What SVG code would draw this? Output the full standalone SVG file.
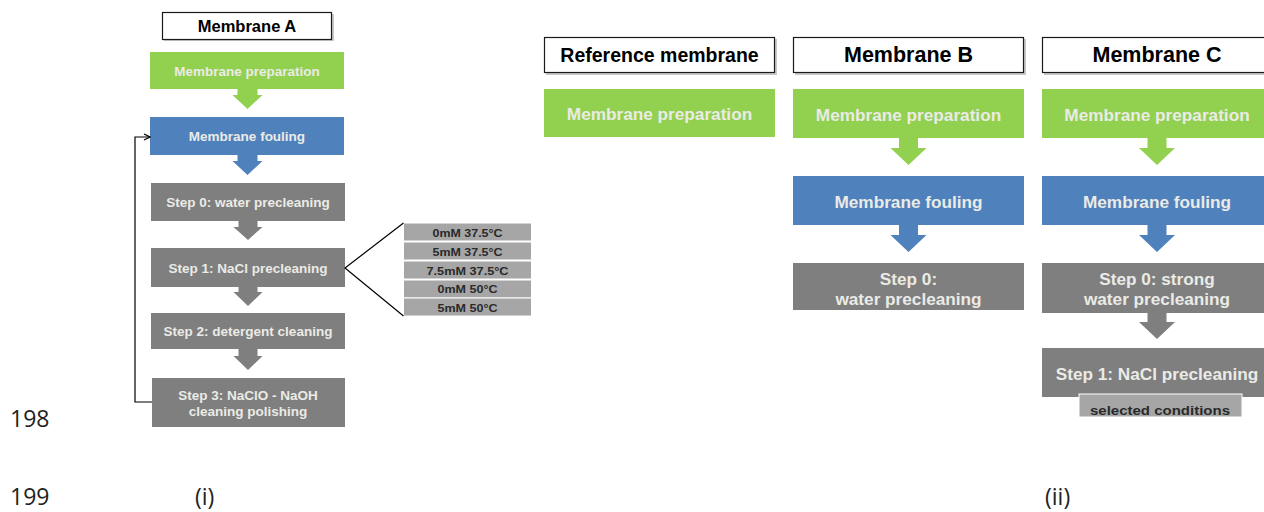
<svg xmlns="http://www.w3.org/2000/svg" width="1264" height="512" viewBox="0 0 1264 512">
<style>
.bg{fill:#ffffff}
.title{fill:#ffffff;stroke:#1a1a1a;stroke-width:1.2}
.shadow{fill:#c8c8c8}
.green{fill:#92d050}
.blue{fill:#4f81bd}
.gray{fill:#7f7f7f}
.cond{fill:#a6a6a6;stroke:#ffffff;stroke-width:1}
.tt{font-family:"Liberation Sans",Arial,sans-serif;font-weight:bold;fill:#000000;text-anchor:middle;dominant-baseline:central}
.bt{font-family:"Liberation Sans",Arial,sans-serif;font-weight:bold;fill:#ebebe6;text-anchor:middle;dominant-baseline:central}
.ct{font-family:"Liberation Sans",Arial,sans-serif;font-weight:bold;fill:#2a2a2a;text-anchor:middle;dominant-baseline:central}
.num{font-family:"Open Sans","Liberation Sans",sans-serif;fill:#222222;font-size:23px}
.line{fill:none;stroke:#000000;stroke-width:1.2}
</style>
<defs>
<marker id="ah" markerWidth="8" markerHeight="8" refX="7" refY="4" orient="auto" markerUnits="userSpaceOnUse">
<path d="M1,1 L7,4 L1,7" fill="none" stroke="#000" stroke-width="1.3"/>
</marker>
</defs>
<rect class="bg" x="0" y="0" width="1264" height="512"/>

<!-- Left: Membrane A -->
<g id="titleA">
<rect class="shadow" x="164" y="14" width="170" height="27"/>
<rect class="title" x="162.5" y="12.5" width="169" height="27"/>
<text class="tt" x="247" y="26" font-size="16.5">Membrane A</text>
</g>
<g id="A-prep">
<rect class="green" x="150" y="52" width="194" height="37"/>
<text class="bt" x="247" y="71" font-size="13.5">Membrane preparation</text>
</g>
<g id="A-fouling">
<rect class="blue" x="150" y="117" width="194" height="38"/>
<text class="bt" x="247" y="136.5" font-size="13.5">Membrane fouling</text>
</g>
<g id="A-step0">
<rect class="gray" x="151" y="183" width="194" height="38"/>
<text class="bt" x="248" y="202.5" font-size="13.5">Step 0: water precleaning</text>
</g>
<g id="A-step1">
<rect class="gray" x="151" y="248" width="194" height="39"/>
<text class="bt" x="248" y="268" font-size="13.5">Step 1: NaCl precleaning</text>
</g>
<g id="A-step2">
<rect class="gray" x="151" y="313" width="194" height="36"/>
<text class="bt" x="248" y="331.5" font-size="13.5">Step 2: detergent cleaning</text>
</g>
<g id="A-step3">
<rect class="gray" x="152" y="378" width="193" height="49"/>
<text class="bt" x="248" y="395" font-size="13.5">Step 3: NaClO - NaOH</text>
<text class="bt" x="248" y="411.5" font-size="13.5">cleaning polishing</text>
</g>
<g id="A-conditions">
<rect class="cond" x="403.5" y="223" width="128" height="18"/>
<text class="ct" x="467.5" y="232.5" font-size="11" textLength="70" lengthAdjust="spacingAndGlyphs">0mM 37.5°C</text>
<rect class="cond" x="403.5" y="242" width="128" height="18"/>
<text class="ct" x="467.5" y="251.5" font-size="11" textLength="70" lengthAdjust="spacingAndGlyphs">5mM 37.5°C</text>
<rect class="cond" x="403.5" y="261" width="128" height="18"/>
<text class="ct" x="467.5" y="270.5" font-size="11" textLength="82" lengthAdjust="spacingAndGlyphs">7.5mM 37.5°C</text>
<rect class="cond" x="403.5" y="280" width="128" height="18"/>
<text class="ct" x="467.5" y="289" font-size="11" textLength="60" lengthAdjust="spacingAndGlyphs">0mM 50°C</text>
<rect class="cond" x="403.5" y="298" width="128" height="18"/>
<text class="ct" x="467.5" y="307.5" font-size="11" textLength="60" lengthAdjust="spacingAndGlyphs">5mM 50°C</text>
</g>

<!-- Right: Reference membrane -->
<g id="titleRef">
<rect class="shadow" x="546" y="39" width="231" height="36"/>
<rect class="title" x="544.5" y="37.5" width="230" height="35"/>
<text class="tt" x="659.5" y="55" font-size="19.5">Reference membrane</text>
</g>
<g id="Ref-prep">
<rect class="green" x="544" y="89" width="231" height="48"/>
<text class="bt" x="659.5" y="114" font-size="17.2">Membrane preparation</text>
</g>

<!-- Membrane B -->
<g id="titleB">
<rect class="shadow" x="795" y="39" width="231" height="36"/>
<rect class="title" x="793.5" y="37.5" width="230" height="35"/>
<text class="tt" x="908.5" y="55" font-size="21.5">Membrane B</text>
</g>
<g id="B-prep">
<rect class="green" x="793" y="89" width="231" height="49"/>
<text class="bt" x="908.5" y="115" font-size="17.2">Membrane preparation</text>
</g>
<g id="B-fouling">
<rect class="blue" x="793" y="176" width="231" height="49"/>
<text class="bt" x="908.5" y="201.5" font-size="17.2">Membrane fouling</text>
</g>
<g id="B-step0">
<rect class="gray" x="793" y="263" width="231" height="47"/>
<text class="bt" x="908.5" y="279" font-size="17.2">Step 0:</text>
<text class="bt" x="908.5" y="299" font-size="17.2">water precleaning</text>
</g>

<!-- Membrane C -->
<g id="titleC">
<rect class="shadow" x="1044" y="39" width="231" height="36"/>
<rect class="title" x="1042.5" y="37.5" width="230" height="35"/>
<text class="tt" x="1157" y="55" font-size="21.5">Membrane C</text>
</g>
<g id="C-prep">
<rect class="green" x="1042" y="89" width="231" height="49"/>
<text class="bt" x="1157" y="115" font-size="17.2">Membrane preparation</text>
</g>
<g id="C-fouling">
<rect class="blue" x="1042" y="176" width="231" height="49"/>
<text class="bt" x="1157" y="201.5" font-size="17.2">Membrane fouling</text>
</g>
<g id="C-step0">
<rect class="gray" x="1042" y="263" width="231" height="50"/>
<text class="bt" x="1157" y="279" font-size="17.2">Step 0: strong</text>
<text class="bt" x="1157" y="299" font-size="17.2">water precleaning</text>
</g>
<g id="C-step1">
<rect class="gray" x="1042" y="348" width="231" height="49"/>
<text class="bt" x="1157" y="374" font-size="17.2">Step 1: NaCl precleaning</text>
</g>
<g id="C-selected">
<rect x="1079" y="394" width="163" height="23" fill="#a6a6a6" stroke="#ffffff" stroke-width="1"/>
<text class="ct" x="1160" y="410" font-size="13.5" textLength="140" lengthAdjust="spacingAndGlyphs">selected conditions</text>
</g>

<!-- connectors -->
<g id="connectors">
<!-- left column block arrows -->
<polygon class="green" points="237.5,89 257.5,89 257.5,95 262.5,95 247.5,109 232.5,95 237.5,95"/>
<polygon class="blue" points="237.5,155 257.5,155 257.5,161 262.5,161 247.5,175 232.5,161 237.5,161"/>
<polygon class="gray" points="238.5,221 257.5,221 257.5,227 262.5,227 248,240 233.5,227 238.5,227"/>
<polygon class="gray" points="238.5,287 257.5,287 257.5,292 262.5,292 248,306 233.5,292 238.5,292"/>
<polygon class="gray" points="238.5,349 257.5,349 257.5,356 262.5,356 248,370 233.5,356 238.5,356"/>
<!-- feedback loop -->
<polyline class="line" points="152,402 135,402 135,137 150,137" marker-end="url(#ah)"/>
<!-- fan-out to conditions -->
<polyline class="line" points="403.5,223 345,268 403.5,316" stroke-width="1"/>
<!-- Membrane B arrows -->
<polygon class="green" points="899,138 918,138 918,148 926.5,148 908.5,165 890.5,148 899,148"/>
<polygon class="blue" points="899,225 918,225 918,235 926.5,235 908.5,252 890.5,235 899,235"/>
<!-- Membrane C arrows -->
<polygon class="green" points="1147.5,138 1166.5,138 1166.5,148 1175,148 1157,165 1139,148 1147.5,148"/>
<polygon class="blue" points="1147.5,225 1166.5,225 1166.5,235 1175,235 1157,252 1139,235 1147.5,235"/>
<polygon class="gray" points="1147.5,313 1166.5,313 1166.5,322 1175,322 1157,339 1139,322 1147.5,322"/>
</g>

<!-- page labels -->
<text class="num" x="10" y="427">198</text>
<text class="num" x="10" y="505">199</text>
<text class="num" x="195" y="505">(i)</text>
<text class="num" x="1045" y="505">(ii)</text>
</svg>
